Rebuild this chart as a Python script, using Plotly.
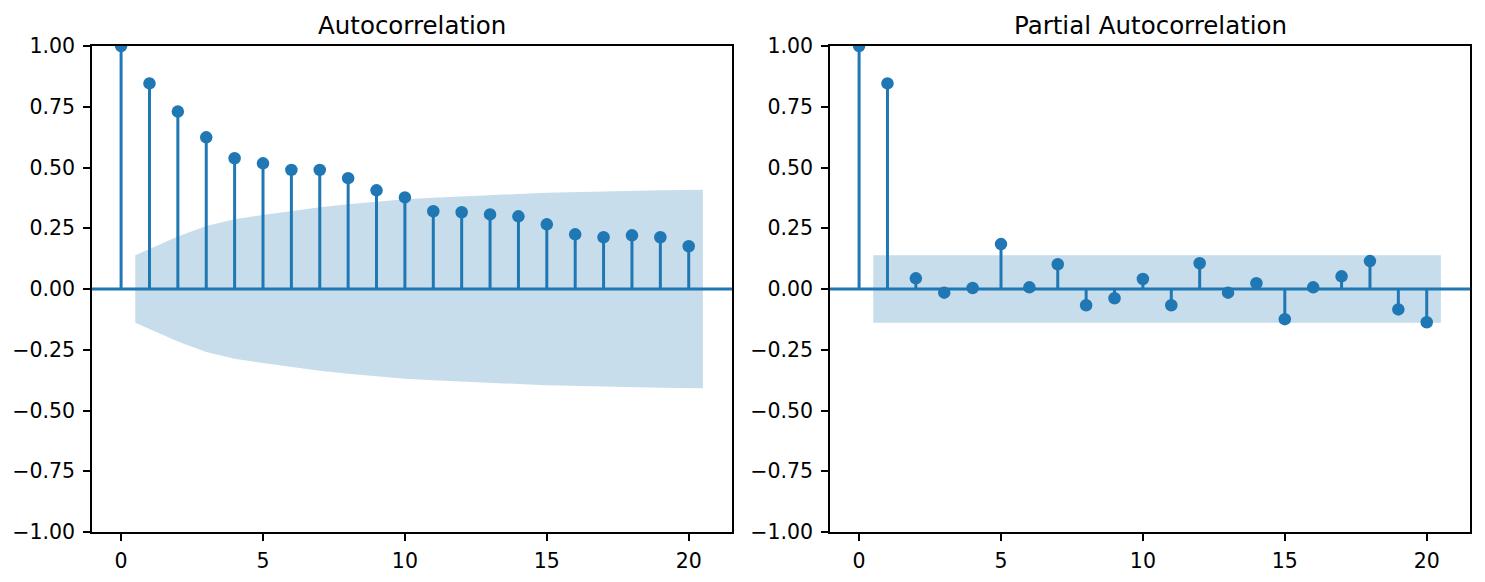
import plotly.graph_objects as go

W, H = 1485, 582
BLUE = "#1f77b4"
FILL = "rgba(31,119,180,0.25)"
FONT = "DejaVu Sans"

lags = list(range(0, 21))
acf_vals = [1.0, 0.846, 0.730, 0.624, 0.538, 0.517, 0.490, 0.490, 0.456, 0.406, 0.377,
            0.320, 0.316, 0.307, 0.299, 0.266, 0.225, 0.213, 0.221, 0.213, 0.176]
# half-width of confidence band at lags 1..20
acf_band = [0.139, 0.216, 0.259, 0.287, 0.305, 0.322, 0.336, 0.349, 0.360, 0.369,
            0.376, 0.382, 0.387, 0.391, 0.396, 0.399, 0.402, 0.404, 0.406, 0.408]
pacf_vals = [1.0, 0.846, 0.044, -0.015, 0.004, 0.185, 0.007, 0.102, -0.067, -0.038, 0.041,
             -0.067, 0.106, -0.015, 0.024, -0.124, 0.007, 0.052, 0.115, -0.084, -0.137]
pacf_band = [0.139] * 20

titles = ["Autocorrelation", "Partial Autocorrelation"]
y_ticks = [-1.0, -0.75, -0.5, -0.25, 0.0, 0.25, 0.5, 0.75, 1.0]
x_ticks = [0, 5, 10, 15, 20]

fig = go.Figure()

panels = [(acf_vals, acf_band, "x", "y"), (pacf_vals, pacf_band, "x2", "y2")]
for vals, band, xa, ya in panels:
    bx = [float(l) for l in lags[1:]]
    bx[0] -= 0.5
    bx[-1] += 0.5
    poly_x = bx + bx[::-1]
    poly_y = band + [-b for b in band[::-1]]
    fig.add_trace(go.Scatter(x=poly_x, y=poly_y, fill="toself", fillcolor=FILL,
                             mode="lines", line=dict(width=0), hoverinfo="skip",
                             showlegend=False, xaxis=xa, yaxis=ya))
    sx, sy = [], []
    for l, v in zip(lags, vals):
        sx += [l, l, None]
        sy += [0, v, None]
    fig.add_trace(go.Scatter(x=sx, y=sy, mode="lines", line=dict(color=BLUE, width=3),
                             showlegend=False, xaxis=xa, yaxis=ya))
    fig.add_trace(go.Scatter(x=lags, y=vals, mode="markers",
                             marker=dict(color=BLUE, size=12.5, line=dict(width=0)),
                             showlegend=False, xaxis=xa, yaxis=ya))
    fig.add_shape(type="line", xref=xa + " domain", yref=ya, x0=0, x1=1, y0=0, y1=0,
                  line=dict(color=BLUE, width=3.2))

left_dom = [92 / W, 732 / W]
right_dom = [830 / W, 1470 / W]
y_dom = [1 - 532 / H, 1 - 46 / H]

axis_common = dict(showline=True, mirror=True, linecolor="black", linewidth=1.6,
                   ticks="outside", ticklen=7, tickwidth=1.6, tickcolor="black",
                   showgrid=False, zeroline=False, automargin=False,
                   tickfont=dict(family=FONT, size=20.5, color="black"))

fig.update_layout(
    width=W, height=H, margin=dict(l=0, r=0, t=0, b=0),
    paper_bgcolor="white", plot_bgcolor="white", showlegend=False,
    xaxis=dict(domain=left_dom, range=[-1.025, 21.525], tickvals=x_ticks, anchor="y",
               ticklabelstandoff=3, **axis_common),
    xaxis2=dict(domain=right_dom, range=[-1.025, 21.525], tickvals=x_ticks, anchor="y2",
                ticklabelstandoff=3, **axis_common),
    yaxis=dict(domain=y_dom, range=[-1, 1], tickvals=y_ticks, tickformat=".2f", anchor="x",
               ticklabelstandoff=4, **axis_common),
    yaxis2=dict(domain=y_dom, range=[-1, 1], tickvals=y_ticks, tickformat=".2f", anchor="x2",
                ticklabelstandoff=4, **axis_common),
)

for t, dom in zip(titles, [left_dom, right_dom]):
    fig.add_annotation(text=t, xref="paper", yref="paper", x=(dom[0] + dom[1]) / 2,
                       y=1 - 26 / H, xanchor="center", yanchor="middle", showarrow=False,
                       font=dict(family=FONT, size=24.5, color="black"))

fig.write_html("out.html")
